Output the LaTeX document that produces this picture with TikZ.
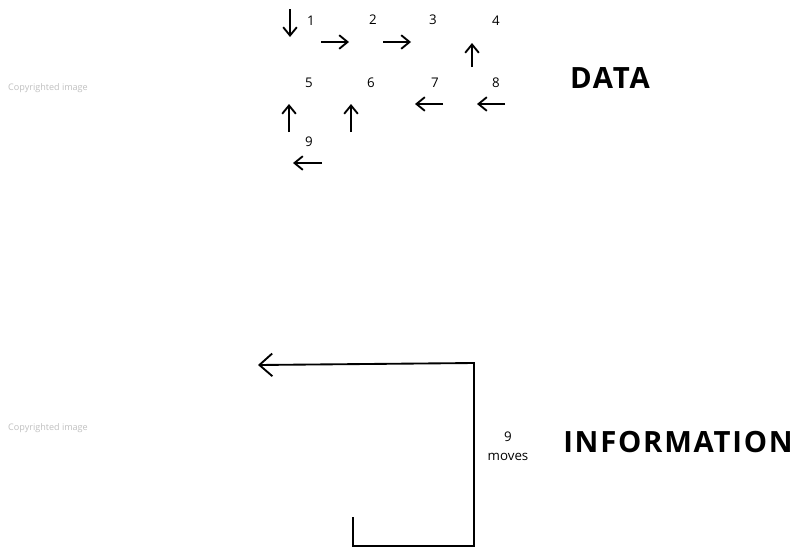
\documentclass[tikz,border=0pt]{standalone}
\usepackage{fontspec}
\setmainfont{Open Sans}
\newfontfamily\wordfont[LetterSpace=6]{Open Sans}
\usetikzlibrary{arrows.meta}

\begin{document}
\begin{tikzpicture}[x=0.0264cm,y=-0.0264cm]
		\tikzset{move/.style={line width=1.4pt,-{Straight Barb[length=2.2mm,width=3.6mm]}}}
		\tikzset{path_line/.style={line width=1.4pt,line join=miter}}
		\tikzset{step_num/.style={font=\fontsize{10}{12}\selectfont,inner sep=0pt}}
		\tikzset{big_word/.style={font=\wordfont\bfseries\fontsize{22}{26}\selectfont,inner sep=0pt}}
		\tikzset{stamp/.style={font=\fontsize{6.8}{8}\selectfont,text=black!25,inner sep=0pt}}

		\useasboundingbox (0,0) rectangle (793,547);

		% step numbers of the path, read square by square
		\foreach \n/\x/\y in {1/311/21, 2/373/20, 3/433/20, 4/496/21,
		                      5/309/83, 6/371/83, 7/435/83, 8/496/83, 9/309/142}
			\node [step_num] (num\n) at (\x,\y) {\n};

		% one short arrow per move
		\foreach \m/\xa/\ya/\xb/\yb in {a/290/9/290/37, b/321/42/349/42, c/383/42/411/42,
		                                d/472/67/472/43, e/505/104/477/104, f/443/104/415/104,
		                                g/351/132/351/104, h/289/132/289/104, i/322/163/293/163}
		{
			\coordinate (from-\m) at (\xa,\ya);
			\coordinate (to-\m) at (\xb,\yb);
			\draw [move] (from-\m) -- (to-\m);
		}

		\node [big_word] (data) at (610,78) {DATA};

		% the same route as one long line
		\coordinate (start) at (353,517);
		\coordinate (low_left) at (353,546);
		\coordinate (low_right) at (474,546);
		\coordinate (high_right) at (474,363);
		\coordinate (finish) at (258,365);
		\draw [path_line,-{Straight Barb[length=3.4mm,width=6mm]}]
			(start) -- (low_left) -- (low_right) -- (high_right) -- (finish);

		\node [step_num] (count) at (508,437) {9};
		\node [step_num] (moves) at (508,457) {moves};

		\node [big_word] (info) at (678,442) {INFORMATION};

		\node [stamp] (stamp1) at (48,88) {Copyrighted image};
		\node [stamp] (stamp2) at (48,428) {Copyrighted image};
\end{tikzpicture}
\end{document}
